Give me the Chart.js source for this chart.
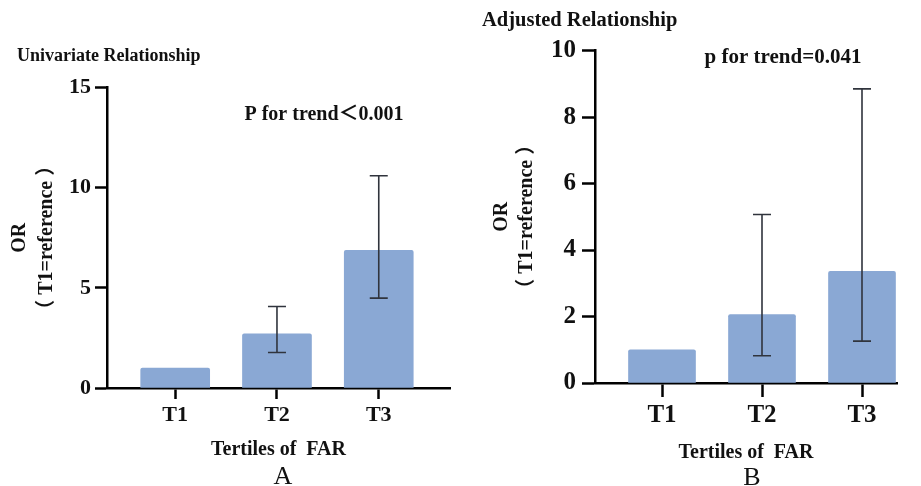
<!DOCTYPE html>
<html>
<head>
<meta charset="utf-8">
<script src="https://cdn.jsdelivr.net/npm/chart.js@4.4.1/dist/chart.umd.min.js"></script>
<style>
  body { margin: 0; background: #fff; }
  #wrap { position: relative; width: 921px; height: 486px; overflow: hidden; }
  canvas { position: absolute; top: 0; }
  #chart-a { left: 0; }
  #chart-b { left: 460px; }
  .letter { position: absolute; font: 26px "Liberation Serif", "Times New Roman", serif; color: #111; line-height: 26px; transform: translateX(-50%); }
</style>
</head>
<body>
<div id="wrap">
  <canvas id="chart-a" width="460" height="486"></canvas>
  <canvas id="chart-b" width="461" height="486"></canvas>
  <div class="letter" style="left:283px; top:463px;">A</div>
  <div class="letter" style="left:752px; top:464px;">B</div>
</div>
<script>
const tertiles = ['T1', 'T2', 'T3'];

// panel A: univariate
const orUnivariate = [1.0, 2.7, 6.87];
const lowerUnivariate = [null, 1.77, 4.49];
const upperUnivariate = [null, 4.07, 10.6];

// panel B: adjusted
const orAdjusted = [1.0, 2.06, 3.36];
const lowerAdjusted = [null, 0.82, 1.26];
const upperAdjusted = [null, 5.07, 8.85];

const serif = '"Liberation Serif", "Times New Roman", "Noto Sans CJK SC", serif';
const barColor = '#8aa8d4';

// draws the CI whiskers and the p-for-trend note
const errorBars = {
    id: 'errorBars',
    afterDatasetsDraw(chart, args, opts) {
        const ctx = chart.ctx;
        const xs = chart.scales.x;
        const ys = chart.scales.y;
        ctx.save();
        ctx.strokeStyle = '#30343d';
        ctx.lineWidth = 1.6;
        opts.lower.forEach((lo, i) => {
            const hi = opts.upper[i];
            if (lo == null || hi == null) return;
            const x = xs.getPixelForValue(i + 1);
            const y1 = ys.getPixelForValue(lo);
            const y2 = ys.getPixelForValue(hi);
            ctx.beginPath();
            ctx.moveTo(x, y1);
            ctx.lineTo(x, y2);
            ctx.moveTo(x - opts.cap, y1);
            ctx.lineTo(x + opts.cap, y1);
            ctx.moveTo(x - opts.cap, y2);
            ctx.lineTo(x + opts.cap, y2);
            ctx.stroke();
        });
        ctx.fillStyle = '#111';
        ctx.font = 'bold ' + opts.noteSize + 'px ' + serif;
        ctx.textAlign = 'center';
        ctx.textBaseline = 'middle';
        const area = chart.chartArea;
        ctx.fillText(opts.note, area.left + opts.noteDx, area.top + opts.noteDy);
        ctx.restore();
    }
};

function makePanel(id, p) {
    return new Chart(document.getElementById(id), {
        type: 'bar',
        data: {
            datasets: [{
                data: p.values.map((v, i) => ({ x: i + 1, y: v })),
                backgroundColor: barColor,
                barThickness: p.barWidth,
                borderRadius: 2,
                borderSkipped: 'start',
            }]
        },
        options: {
            responsive: false,
            animation: false,
            layout: { padding: p.padding },
            plugins: {
                legend: { display: false },
                tooltip: { enabled: false },
                title: {
                    display: true,
                    text: p.title,
                    align: 'start',
                    color: '#111',
                    font: { family: serif, size: p.titleSize, weight: 'bold', lineHeight: 1.2 },
                    padding: p.titlePad,
                },
                errorBars: {
                    lower: p.lower, upper: p.upper, cap: 9,
                    note: p.note, noteSize: p.noteSize, noteDx: p.noteDx, noteDy: p.noteDy,
                },
            },
            scales: {
                x: {
                    type: 'linear',
                    min: p.xMin,
                    max: p.xMax,
                    offset: false,
                    afterBuildTicks: (s) => { s.ticks = tertiles.map((t, i) => ({ value: i + 1 })); },
                    afterFit: (s) => { s.height = p.xHeight; },
                    ticks: {
                        color: '#111',
                        padding: p.xTickPad,
                        font: { family: serif, size: p.tickSize, weight: 'bold' },
                        callback: (v) => tertiles[v - 1],
                    },
                    grid: {
                        offset: false,
                        drawOnChartArea: false,
                        tickLength: p.xTickLen,
                        tickWidth: 2.5,
                        tickColor: '#000',
                    },
                    border: { color: '#000', width: 2.5 },
                    title: {
                        display: true,
                        text: 'Tertiles of  FAR',
                        color: '#111',
                        font: { family: serif, size: 20, weight: 'bold', lineHeight: 1.2 },
                        padding: { top: 0, bottom: p.xTitleBottom },
                    },
                },
                y: {
                    min: 0,
                    max: p.yMax,
                    afterFit: (s) => { s.width = p.yWidth; },
                    ticks: {
                        stepSize: p.yStep,
                        color: '#111',
                        padding: p.yTickPad,
                        font: { family: serif, size: p.tickSize, weight: 'bold' },
                    },
                    grid: {
                        drawOnChartArea: false,
                        tickLength: p.yTickLen,
                        tickWidth: 2.5,
                        tickColor: '#000',
                    },
                    border: { color: '#000', width: 2.5 },
                    title: {
                        display: true,
                        text: ['OR', '（ T1=reference ）'],
                        color: '#111',
                        font: { family: serif, size: 20, weight: 'bold', lineHeight: p.yTitleLine },
                        padding: { top: p.yTitlePad, bottom: 0 },
                    },
                },
            },
        },
        plugins: [errorBars],
    });
}

makePanel('chart-a', {
    title: 'Univariate Relationship',
    titleSize: 18,
    titlePad: { top: 46, bottom: 20 },
    values: orUnivariate, lower: lowerUnivariate, upper: upperUnivariate,
    padding: { left: 17, right: 10, top: 0, bottom: 0 },
    barWidth: 69,
    xMin: 0.33, xMax: 3.7, xHeight: 98, xTickLen: 11, xTickPad: 3, xTitleBottom: 24,
    yMax: 15, yStep: 5, yWidth: 90, yTickLen: 12, yTickPad: 4,
    yTitleLine: 1.35, yTitlePad: -10.5,
    tickSize: 22,
    note: 'P for trend＜0.001', noteSize: 20, noteDx: 217, noteDy: 27,
});

makePanel('chart-b', {
    title: 'Adjusted Relationship',
    titleSize: 20.5,
    titlePad: { top: 8, bottom: 18 },
    values: orAdjusted, lower: lowerAdjusted, upper: upperAdjusted,
    padding: { left: 22, right: 24, top: 0, bottom: 0 },
    barWidth: 67,
    xMin: 0.33, xMax: 3.35, xHeight: 103, xTickLen: 14, xTickPad: 4, xTitleBottom: 21,
    yMax: 10, yStep: 2, yWidth: 113, yTickLen: 13, yTickPad: 6,
    yTitleLine: 1.25, yTitlePad: 7.5,
    tickSize: 25,
    note: 'p for trend=0.041', noteSize: 21, noteDx: 188, noteDy: 7,
});
</script>
</body>
</html>
